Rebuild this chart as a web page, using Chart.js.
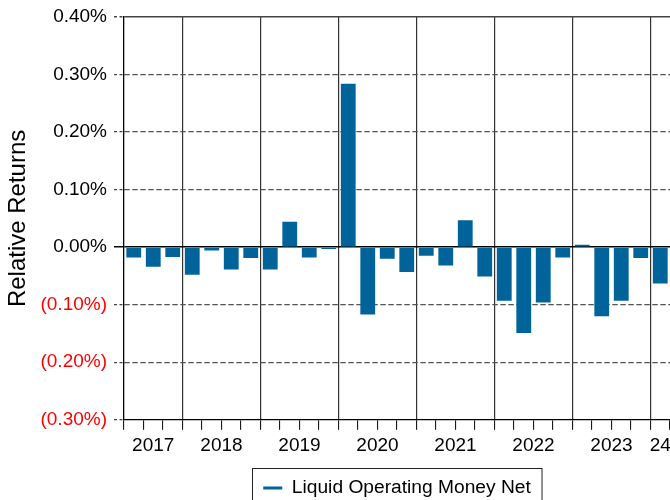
<!DOCTYPE html>
<html>
<head>
<meta charset="utf-8">
<script src="https://cdn.jsdelivr.net/npm/chart.js@4.4.1/dist/chart.umd.min.js"></script>
<style>
  html, body { margin: 0; padding: 0; overflow: hidden; background: #fff; }
  #wrap { width: 670px; height: 520px; }
</style>
</head>
<body>
<div id="wrap"><canvas id="myChart" width="670" height="520"></canvas></div>
<script>
// quarterly relative returns, in percent
const quarters = [
  "2017 Q2", "2017 Q3", "2017 Q4",
  "2018 Q1", "2018 Q2", "2018 Q3", "2018 Q4",
  "2019 Q1", "2019 Q2", "2019 Q3", "2019 Q4",
  "2020 Q1", "2020 Q2", "2020 Q3", "2020 Q4",
  "2021 Q1", "2021 Q2", "2021 Q3", "2021 Q4",
  "2022 Q1", "2022 Q2", "2022 Q3", "2022 Q4",
  "2023 Q1", "2023 Q2", "2023 Q3", "2023 Q4",
  "2024 Q1"
];
const relReturns = [
  -0.018, -0.034, -0.017,
  -0.048, -0.006, -0.039, -0.019,
  -0.039, 0.044, -0.018, -0.003,
  0.284, -0.117, -0.020, -0.043,
  -0.015, -0.032, 0.047, -0.051,
  -0.093, -0.149, -0.096, -0.018,
  0.004, -0.120, -0.093, -0.019,
  -0.063
];
const yearLabels = ["2017", "2018", "2019", "2020", "2021", "2022", "2023", "24"];
const seriesName = "Liquid Operating Money Net";

const barColor = "#00649b";
const fontFamily = "'Liberation Sans', Arial, sans-serif";

// year of every quarter, and the middle of each year's run of quarters
const years = quarters.map(q => q.slice(0, 4));
const yearNames = [...new Set(years)];
const yearCentres = yearNames.map(y => {
  const first = years.indexOf(y);
  const last = years.lastIndexOf(y);
  return (first + last) / 2;
});

function isYearStart(i) {
  return i > 0 && i < quarters.length && years[i] !== years[i - 1];
}

function fmtPct(v) {
  if (Math.abs(v) < 1e-9) return "0.00%";
  if (v < 0) return "(" + (-v).toFixed(2) + "%)";
  return v.toFixed(2) + "%";
}

// solid lines for zero and the top of the axis, dashed for the rest
function solidLine(ctx) {
  if (!ctx.tick) return true;
  const v = ctx.tick.value;
  return Math.abs(v) < 1e-9 || v > 0.39;
}

const legendBox = {
  id: "legendBox",
  afterDraw(chart) {
    const hb = chart.legend.legendHitBoxes[0];
    if (!hb) return;
    const ctx = chart.ctx;
    const cy = hb.top + hb.height / 2;
    ctx.save();
    ctx.strokeStyle = "#222";
    ctx.lineWidth = 1;
    ctx.strokeRect(Math.round(hb.left - 11) + 0.5, Math.round(cy - 20) + 0.5, hb.width + 22, 44);
    ctx.restore();
  }
};

new Chart("myChart", {
  type: "bar",
  data: {
    labels: quarters,
    datasets: [{
      label: seriesName,
      data: relReturns,
      backgroundColor: barColor,
      borderWidth: 0,
      barPercentage: 0.76,
      categoryPercentage: 1.0
    }]
  },
  options: {
    responsive: false,
    animation: false,
    layout: { padding: { top: 17, bottom: 12.5, left: 0, right: 0 } },
    plugins: {
      tooltip: { enabled: false },
      legend: {
        position: "bottom",
        fullSize: false,
        labels: {
          usePointStyle: true,
          pointStyle: "line",
          pointStyleWidth: 19,
          padding: 10,
          color: "#000",
          font: { family: fontFamily, size: 19.2 },
          generateLabels: () => [{
            text: seriesName,
            strokeStyle: barColor,
            fillStyle: barColor,
            lineWidth: 3,
            pointStyle: "line",
            hidden: false,
            datasetIndex: 0
          }]
        }
      }
    },
    scales: {
      x: {
        offset: true,
        weight: 0,
        ticks: { display: false, autoSkip: false },
        grid: {
          offset: true,
          drawOnChartArea: true,
          color: ctx => isYearStart(ctx.index) ? "#333" : "rgba(0,0,0,0)",
          lineWidth: 1.2,
          tickLength: 10,
          tickColor: "#000",
          tickWidth: 1
        },
        border: { color: "#000", width: 1.3 },
        afterFit: s => { s.height = 10; s.paddingLeft = 0; s.paddingRight = 0; }
      },
      yr: {
        type: "linear",
        position: "bottom",
        weight: 1,
        offset: false,
        min: -0.5,
        max: quarters.length - 0.5,
        afterBuildTicks: s => { s.ticks = yearCentres.map(v => ({ value: v })); },
        ticks: {
          autoSkip: false,
          maxRotation: 0,
          padding: 5,
          color: "#000",
          font: { family: fontFamily, size: 19 },
          callback: (v, i) => yearLabels[i]
        },
        grid: { display: false, drawTicks: false },
        border: { display: false },
        afterFit: s => { s.height = 38.5; s.paddingLeft = 0; s.paddingRight = 0; }
      },
      y: {
        min: -0.3,
        max: 0.4,
        ticks: {
          stepSize: 0.1,
          padding: 7,
          font: { family: fontFamily, size: 19 },
          color: ctx => ctx.tick.value < -1e-9 ? "#ff0000" : "#000",
          callback: v => fmtPct(v)
        },
        grid: {
          color: ctx => {
            const v = ctx.tick.value;
            if (Math.abs(v) < 1e-9) return "#000";
            if (v > 0.39) return "#444";
            if (v < -0.29) return "rgba(0,0,0,0)";
            return "#555";
          },
          lineWidth: ctx => solidLine(ctx) ? 1.5 : 1.2,
          tickBorderDash: ctx => (ctx.tick && Math.abs(ctx.tick.value) < 1e-9) ? [] : [3, 2.5],
          tickColor: ctx => (ctx.tick && Math.abs(ctx.tick.value) < 1e-9) ? "#000" : "#444",
          tickLength: 10
        },
        border: {
          color: "#000",
          width: 1.3,
          dash: ctx => solidLine(ctx) ? [] : [5.5, 2.5]
        },
        title: {
          display: true,
          text: "Relative Returns",
          color: "#000",
          font: { family: fontFamily, size: 24 },
          padding: { top: 4, bottom: 0 }
        },
        afterFit: s => { s.width = 124; s.paddingTop = 0; s.paddingBottom = 0; }
      }
    }
  },
  plugins: [legendBox]
});
</script>
</body>
</html>
